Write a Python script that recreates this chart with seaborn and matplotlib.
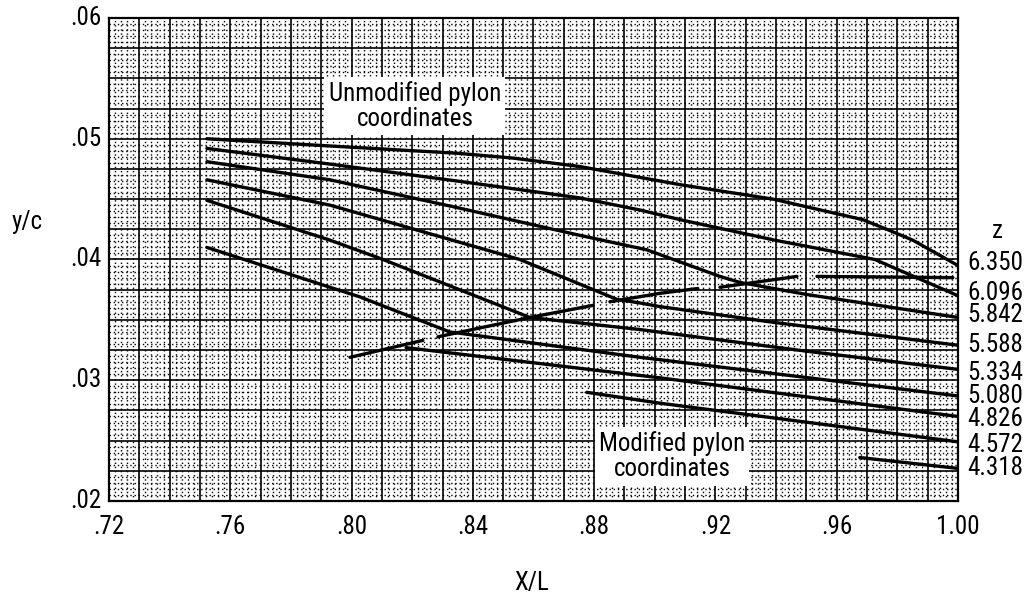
import numpy as np
import pandas as pd
import seaborn as sns
import matplotlib.pyplot as plt
from matplotlib import font_manager
from matplotlib.ticker import MultipleLocator

# --- curves (X/L, y/c), one pair per spanwise station z ---
x_6350 = [.7523, .7929, .8348, .8532, .8753, .9083, .9390, .9686, .9775, .9851, 1.00]
y_6350 = [.0500, .0494, .0488, .0484, .0477, .0462, .0450, .0433, .0424, .0416, .0395]

x_6096 = [.7523, .7929, .8348, .8753, .8951, .9083, .9396, .9726, 1.00]
y_6096 = [.0492, .0479, .0465, .0451, .0441, .0433, .0416, .0400, .0370]

x_5842 = [.7523, .7929, .8348, .8753, .8974, .9215, .9281, .9502, 1.00]
y_5842 = [.0481, .0466, .0443, .0420, .0408, .0386, .0381, .0371, .0352]

x_5588 = [.7523, .7929, .8555, .8875, .8951, .9017, .9390, 1.00]
y_5588 = [.0466, .0445, .0400, .0367, .0364, .0361, .0348, .0329]

x_5334 = [.7523, .7929, .8104, .8588, .8951, .9502, 1.00]
y_5334 = [.0449, .0416, .0400, .0352, .0342, .0324, .0309]

x_5080 = [.7523, .7929, .8028, .8324, .8951, .9017, 1.00]
y_5080 = [.0410, .0377, .0369, .0340, .0319, .0317, .0287]

x_4826 = [.8180, .9017, 1.00]
y_4826 = [.0327, .0302, .0270]

x_4572 = [.8776, .9017, 1.00]
y_4572 = [.0290, .0281, .0249]

x_4318 = [.9676, 1.00]
y_4318 = [.0236, .0227]

# rising line of the modified pylon, drawn in broken pieces
x_mod = [[.7995, .8235], [.8285, .8588, .8796], [.8852, .9017, .9142], [.9215, .9469], [.9535, .9983]]
y_mod = [[.0319, .0333], [.0336, .0352, .0362], [.0365, .0372, .0376], [.0377, .0386], [.0386, .0385]]

z_labels = ["6.350", "6.096", "5.842", "5.588", "5.334", "5.080", "4.826", "4.572", "4.318"]
z_label_y = [.0397, .0372, .0354, .0329, .0306, .0287, .0268, .0246, .0227]

x_ticks = [.72, .76, .80, .84, .88, .92, .96, 1.00]
x_tick_labels = [".72", ".76", ".80", ".84", ".88", ".92", ".96", "1.00"]
y_ticks = [.02, .03, .04, .05, .06]
y_tick_labels = [".02", ".03", ".04", ".05", ".06"]

# long-form table for seaborn
curves = [
    ("6.350", x_6350, y_6350), ("6.096", x_6096, y_6096), ("5.842", x_5842, y_5842),
    ("5.588", x_5588, y_5588), ("5.334", x_5334, y_5334), ("5.080", x_5080, y_5080),
    ("4.826", x_4826, y_4826), ("4.572", x_4572, y_4572), ("4.318", x_4318, y_4318),
]
for i, (xs, ys) in enumerate(zip(x_mod, y_mod)):
    curves.append((f"mod{i}", xs, ys))

rows = []
for name, xs, ys in curves:
    rows += [(name, a, b) for a, b in zip(xs, ys)]
df = pd.DataFrame(rows, columns=["seg", "X/L", "y/c"])

sns.set_style("white")

# a narrow face looks closest to the original lettering; fall back to Roboto
installed = {f.name for f in font_manager.fontManager.ttflist}
narrow = [n for n in ["Liberation Sans Narrow", "Roboto Condensed", "DejaVu Sans Condensed",
                      "Open Sans Condensed"] if n in installed]
if narrow:
    plt.rcParams['font.family'] = [narrow[0], 'DejaVu Sans']
    FS = 18
else:
    plt.rcParams['font.family'] = ['Roboto', 'DejaVu Sans']
    FS = 16
plt.rcParams['text.color'] = 'black'

fig = plt.figure(figsize=(10.32, 6.0), dpi=100)
ax = fig.add_axes([0.1056, 0.165, 0.8227, 0.805])

sns.lineplot(data=df, x="X/L", y="y/c", units="seg", estimator=None, sort=False,
             color="black", lw=2.4, ax=ax, zorder=5)

ax.set_xlim(.72, 1.00)
ax.set_ylim(.02, .06)

# graph-paper grid
ax.xaxis.set_major_locator(MultipleLocator(0.01))
ax.yaxis.set_major_locator(MultipleLocator(0.0025))
ax.xaxis.set_minor_locator(MultipleLocator(0.002))
ax.yaxis.set_minor_locator(MultipleLocator(0.0005))
ax.grid(which="major", color="black", lw=1.2)
ax.grid(which="minor", color="black", lw=1.0, ls=(0, (1, 2)))
ax.set_axisbelow(True)
ax.tick_params(which="both", length=0)
ax.set_xticklabels([])
ax.set_yticklabels([])

for s in ax.spines.values():
    s.set_color("black")
    s.set_linewidth(1.6)

# tick labels placed as text so the grid spacing stays independent of them
for xv, lab in zip(x_ticks, x_tick_labels):
    ax.text(xv, .0188, lab, ha="center", va="top", fontsize=FS, clip_on=False)
for yv, lab in zip(y_ticks, y_tick_labels):
    ax.text(.7175, yv, lab, ha="right", va="center", fontsize=FS, clip_on=False)

ax.set_xlabel("")
ax.set_ylabel("")
fig.text(532 / 1032, 1 - 583 / 600, "X/L", ha="center", va="center", fontsize=FS)
fig.text(27 / 1032, 1 - 222 / 600, "y/c", ha="center", va="center", fontsize=FS)

# station labels at the right
ax.text(1.0128, .0424, "z", ha="center", va="center", fontsize=FS, clip_on=False)
for yv, lab in zip(z_label_y, z_labels):
    ax.text(1.003, yv, lab, ha="left", va="center", fontsize=FS, clip_on=False)

box = dict(facecolor="white", edgecolor="none", pad=3)
ax.text(.8209, .0527, "Unmodified pylon\ncoordinates", ha="center", va="center",
        fontsize=FS, linespacing=1.05, bbox=box, zorder=6)
ax.text(.9057, .0237, "Modified pylon\ncoordinates", ha="center", va="center",
        fontsize=FS, linespacing=1.05, bbox=box, zorder=6)

fig.savefig("out.png", dpi=100)
